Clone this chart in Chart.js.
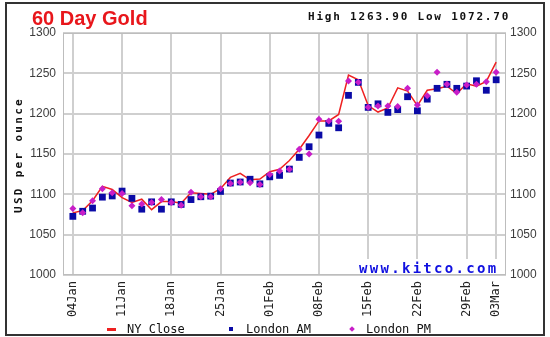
<!DOCTYPE html>
<html lang="en">
<head>
<meta charset="UTF-8">
<title>60 Day Gold</title>
<script src="https://cdn.jsdelivr.net/npm/chart.js"></script>
<style>
    body { margin: 0; background: #fff; }
    #wrap { position: relative; width: 550px; height: 337px; overflow: hidden; }
    #wrap canvas { position: absolute; left: 0; top: 0; }
    .frame { position: absolute; left: 5px; top: 2px; width: 540px; height: 334px; border: 2px solid #333; box-sizing: border-box; }
    .title { position: absolute; left: 32px; top: 8px; font: bold 20px "Liberation Sans", Arial, sans-serif; line-height: 20px; color: #e8161b; }
    .hilo { position: absolute; left: 308px; top: 11px; font: bold 11px "DejaVu Sans Mono", monospace; line-height: 11px; letter-spacing: 1.8px; color: #111; white-space: nowrap; }
    .ytitle { position: absolute; left: 17.5px; top: 155px; transform: translate(-50%, -50%) rotate(-90deg); font: bold 11px "DejaVu Sans Mono", monospace; line-height: 11px; letter-spacing: 2.3px; color: #111; white-space: nowrap; }
    .site { position: absolute; left: 355px; top: 259px; width: 148px; height: 15px; box-sizing: border-box; padding: 2px 0 0 4px; background: #fff; font: bold 14px "DejaVu Sans Mono", monospace; line-height: 14px; letter-spacing: 2.3px; color: #1010e0; white-space: nowrap; }
    .lg { position: absolute; top: 323px; font: 12px "DejaVu Sans Mono", monospace; line-height: 12px; color: #111; white-space: nowrap; }
    .mk { position: absolute; }
</style>
</head>
<body>
<div id="wrap">
    <canvas id="goldChart" width="550" height="337"></canvas>
    <div class="frame"></div>
    <div class="title">60 Day Gold</div>
    <div class="hilo" id="hilo"></div>
    <div class="ytitle">USD per ounce</div>
    <div class="site">www.kitco.com</div>

    <div class="mk" style="left:107px; top:328px; width:9px; height:3px; background:#ee2020;"></div>
    <div class="lg" style="left:127px;">NY Close</div>
    <div class="mk" style="left:229px; top:327px; width:4px; height:4px; background:#0a0aa6;"></div>
    <div class="lg" style="left:246px;">London AM</div>
    <div class="mk" style="left:350px; top:327px; width:4px; height:4px; background:#c81ec8; transform: rotate(45deg);"></div>
    <div class="lg" style="left:366px;">London PM</div>
</div>

<script>
    // trading days shown on the axis (weekdays only)
    const tradingDays = [
        '04Jan', '05Jan', '06Jan', '07Jan', '08Jan',
        '11Jan', '12Jan', '13Jan', '14Jan', '15Jan',
        '18Jan', '19Jan', '20Jan', '21Jan', '22Jan',
        '25Jan', '26Jan', '27Jan', '28Jan', '29Jan',
        '01Feb', '02Feb', '03Feb', '04Feb', '05Feb',
        '08Feb', '09Feb', '10Feb', '11Feb', '12Feb',
        '15Feb', '16Feb', '17Feb', '18Feb', '19Feb',
        '22Feb', '23Feb', '24Feb', '25Feb', '26Feb',
        '29Feb', '01Mar', '02Mar', '03Mar'
    ];
    const tickDays = ['04Jan', '11Jan', '18Jan', '25Jan', '01Feb', '08Feb', '15Feb', '22Feb', '29Feb', '03Mar'];

    const nyClose = [
        1077, 1080, 1092, 1110, 1106,
        1096, 1090, 1094, 1081, 1091,
        1091, 1089, 1102, 1101, 1100,
        1107, 1121, 1126, 1118, 1119,
        1128, 1131, 1142, 1156, 1173,
        1191, 1191, 1199, 1247.8, 1242,
        1210, 1202, 1207, 1232, 1228,
        1210, 1229, 1231, 1234, 1225,
        1237, 1234, 1240, 1263.9
    ];
    const londonAM = [
        1072.7, 1079, 1083, 1096.5, 1098,
        1104, 1095, 1081.6, 1090.7, 1081.6,
        1090.7, 1087.5, 1093.5, 1097, 1097.8,
        1103.6, 1114, 1115.3, 1118.7, 1113,
        1121.7, 1123.5, 1131.3, 1145.8, 1159,
        1173.5, 1188, 1182.5, 1222.7, 1238.8,
        1207.8, 1212.2, 1201.6, 1205, 1221,
        1203.6, 1218, 1231.4, 1236.4, 1231.4,
        1234.2, 1240.8, 1229, 1242
    ];
    const londonPM = [
        1082.5, 1077.3, 1092, 1107, 1102,
        1101, 1086, 1088, 1090, 1093.6,
        1090, 1086.6, 1102.5, 1097, 1097,
        1107, 1113.5, 1115, 1114.5, 1112.3,
        1124.5, 1129, 1131, 1156, 1150,
        1193, 1191, 1190.5, 1240.5, 1238.8,
        1207.8, 1209.4, 1209.6, 1209, 1231.4,
        1210.7, 1222.3, 1251.2, 1236.4, 1226.4,
        1235.4, 1236.4, 1239.6, 1251.2
    ];
    const priceTicks = [1000, 1050, 1100, 1150, 1200, 1250, 1300];

    const allPrices = nyClose.concat(londonAM, londonPM);
    document.getElementById('hilo').textContent =
        'High ' + Math.max(...allPrices).toFixed(2) + ' Low ' + Math.min(...allPrices).toFixed(2);

    const toPoints = values => values.map((v, i) => ({ x: i, y: v }));
    const tickIndex = tickDays.map(d => tradingDays.indexOf(d));

    // light box around the plot area
    const plotBorder = {
        id: 'plotBorder',
        beforeDatasetsDraw(chart) {
            const { ctx, chartArea: a } = chart;
            ctx.save();
            ctx.strokeStyle = '#bdbdbd';
            ctx.lineWidth = 1;
            ctx.strokeRect(a.left + 0.5, a.top + 0.5, a.width - 1, a.height - 1);
            ctx.restore();
        }
    };

    const gridColor = '#cfcfcf';
    const yTickFont = { family: '"Liberation Sans", Arial, sans-serif', size: 12 };
    const plainNumber = v => String(v);

    new Chart(document.getElementById('goldChart'), {
        type: 'line',
        data: {
            datasets: [
                {
                    label: 'London PM',
                    data: toPoints(londonPM),
                    showLine: false,
                    pointStyle: 'rectRot',
                    pointRadius: 3.5,
                    pointBackgroundColor: '#c81ec8',
                    pointBorderWidth: 0,
                    order: 1
                },
                {
                    label: 'London AM',
                    data: toPoints(londonAM),
                    showLine: false,
                    pointStyle: 'rect',
                    pointRadius: 4.8,
                    pointBackgroundColor: '#0a0aa6',
                    pointBorderWidth: 0,
                    order: 2
                },
                {
                    label: 'NY Close',
                    data: toPoints(nyClose),
                    borderColor: '#ee2020',
                    borderWidth: 1.5,
                    pointRadius: 0,
                    tension: 0,
                    order: 3
                }
            ]
        },
        options: {
            responsive: false,
            animation: false,
            devicePixelRatio: 1,
            layout: { padding: { left: 0, right: 0, top: 33, bottom: 0 } },
            plugins: {
                legend: { display: false },
                tooltip: { enabled: false }
            },
            scales: {
                x: {
                    type: 'linear',
                    min: -1,
                    max: tradingDays.length,
                    afterBuildTicks: axis => { axis.ticks = tickIndex.map(v => ({ value: v })); },
                    afterFit: axis => { axis.height = 62; },
                    grid: { color: gridColor, lineWidth: 2, drawTicks: false },
                    border: { display: false },
                    ticks: {
                        autoSkip: false,
                        maxRotation: 90,
                        minRotation: 90,
                        padding: 6,
                        color: '#222',
                        font: { family: '"DejaVu Sans Mono", monospace', size: 12 },
                        callback: v => tradingDays[v]
                    }
                },
                y: {
                    position: 'left',
                    min: priceTicks[0],
                    max: priceTicks[priceTicks.length - 1],
                    afterBuildTicks: axis => { axis.ticks = priceTicks.map(v => ({ value: v })); },
                    afterFit: axis => { axis.width = 63; },
                    grid: { color: gridColor, lineWidth: 2, drawTicks: false },
                    border: { display: false },
                    ticks: { padding: 7, color: '#3c3c3c', font: yTickFont, callback: plainNumber }
                },
                y2: {
                    position: 'right',
                    min: priceTicks[0],
                    max: priceTicks[priceTicks.length - 1],
                    afterBuildTicks: axis => { axis.ticks = priceTicks.map(v => ({ value: v })); },
                    afterFit: axis => { axis.width = 44; },
                    grid: { display: false, drawTicks: false },
                    border: { display: false },
                    ticks: { padding: 4, color: '#3c3c3c', font: yTickFont, callback: plainNumber }
                }
            }
        },
        plugins: [plotBorder]
    });
</script>
</body>
</html>
